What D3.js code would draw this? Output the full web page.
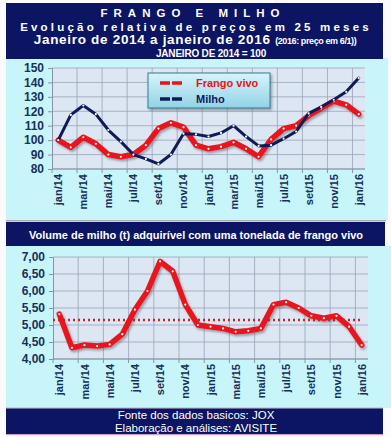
<!DOCTYPE html>
<html><head><meta charset="utf-8">
<script src="https://cdn.jsdelivr.net/npm/d3@7"></script>
<style>html,body{margin:0;padding:0;background:#fff;}svg{display:block;font-family:"Liberation Sans",Arial,sans-serif;}</style>
</head><body>
<script>
const months = ["jan/14","fev/14","mar/14","abr/14","mai/14","jun/14","jul/14","ago/14","set/14","out/14","nov/14","dez/14",
"jan/15","fev/15","mar/15","abr/15","mai/15","jun/15","jul/15","ago/15","set/15","out/15","nov/15","dez/15","jan/16"];
const frango = [100,95,102,97.5,90,88.5,90,96.5,108,112,109,96.5,94,95.5,98.5,94,88.5,100.5,108,110,117,122,127,124.5,118];
const milho  = [100,117.5,124,118,107,99,90,87,83.5,90,104.5,104,102.5,105,110,102.5,96,96.5,101,106,118.5,123,128,133.5,143];
const volume = [5.32,4.33,4.41,4.38,4.43,4.73,5.45,6.0,6.87,6.58,5.6,5.0,4.95,4.9,4.8,4.83,4.9,5.6,5.67,5.5,5.27,5.2,5.27,4.95,4.41];
const volumeMedia = 5.15;
const topTicks = [80,90,100,110,120,130,140,150];
const botTicks = [4,4.5,5,5.5,6,6.5,7];
const seriesNames = ["Frango vivo","Milho"];

const W=391,H=437;
const NAVY="#0b1562", CYAN="#c8f5fa", PLOT="#dde7f3", GRID="#98a3b6", LBL="#16305a", RED="#e8131b", BLUE="#0e1b58";
const svg=d3.select("body").append("svg").attr("width",W).attr("height",H);
const defs=svg.append("defs");
const f=defs.append("filter").attr("id","sh").attr("x","-10%").attr("y","-10%").attr("width","130%").attr("height","140%");
f.append("feDropShadow").attr("dx",1.5).attr("dy",2).attr("stdDeviation",1.2).attr("flood-color","#445").attr("flood-opacity",0.45);
const lg=defs.append("linearGradient").attr("id","lg").attr("x1",0).attr("y1",0).attr("x2",0).attr("y2",1);
lg.append("stop").attr("offset","0%").attr("stop-color","#d6f4fb");
lg.append("stop").attr("offset","100%").attr("stop-color","#92d3e6");

// backgrounds
svg.append("rect").attr("x",0).attr("y",0).attr("width",W).attr("height",H).attr("fill","#fbfbfb");
svg.append("rect").attr("x",6).attr("y",58).attr("width",382).attr("height",162).attr("fill",CYAN);
svg.append("rect").attr("x",6).attr("y",220).attr("width",380).attr("height",1.5).attr("fill","#a8a8b0");
svg.append("rect").attr("x",6).attr("y",246).attr("width",385).attr("height",162).attr("fill",CYAN);
svg.append("rect").attr("x",6).attr("y",3).attr("width",377).attr("height",56).attr("fill",NAVY);
svg.append("rect").attr("x",6).attr("y",222).attr("width",379).attr("height",24).attr("fill",NAVY);
svg.append("rect").attr("x",6).attr("y",407.5).attr("width",377).attr("height",1.2).attr("fill","#c9a6bd");
svg.append("rect").attr("x",6).attr("y",408.5).attr("width",377).attr("height",25.5).attr("fill",NAVY);
svg.append("rect").attr("x",6).attr("y",434).attr("width",377).attr("height",1.2).attr("fill","#c9a6bd");

// title
const T=svg.append("g").attr("fill","#fff").attr("font-weight","bold").attr("text-anchor","middle");
T.append("text").attr("x",193).attr("y",16.5).attr("font-size",11.5).attr("letter-spacing",6).text("FRANGO E MILHO");
T.append("text").attr("x",196).attr("y",30.5).attr("font-size",11.5).attr("letter-spacing",3.2).text("Evolução relativa de preços em 25 meses");
const t3=T.append("text").attr("x",195).attr("y",44);
t3.append("tspan").attr("font-size",13.5).attr("letter-spacing",0.7).text("Janeiro de 2014 a janeiro de 2016 ");
t3.append("tspan").attr("font-size",9).attr("letter-spacing",-0.4).text("(2016: preço em 6/1))");
T.append("text").attr("x",211).attr("y",56.5).attr("font-size",10).attr("letter-spacing",-0.2).text("JANEIRO DE 2014 = 100");
svg.append("text").attr("x",196).attr("y",239).attr("fill","#fff").attr("font-weight","bold").attr("font-size",11).attr("text-anchor","middle").text("Volume de milho (t) adquirível com uma tonelada de frango vivo");
const F=svg.append("g").attr("fill","#fff").attr("font-size",11.5).attr("text-anchor","middle");
F.append("text").attr("x",196).attr("y",419).text("Fonte dos dados basicos: JOX");
F.append("text").attr("x",196).attr("y",432).text("Elaboração e análises: AVISITE");

function chart(x0,x1,y0,y1,dom,ticks,fmt){
  const x=d3.scaleBand().domain(months).range([x0,x1]).padding(0);
  const y=d3.scaleLinear().domain(dom).range([y1,y0]);
  const g=svg.append("g");
  g.append("rect").attr("x",x0).attr("y",y0).attr("width",x1-x0).attr("height",y1-y0).attr("fill",PLOT);
  g.selectAll(".hg").data(ticks).join("line").attr("x1",x0).attr("x2",x1).attr("y1",d=>y(d)).attr("y2",d=>y(d)).attr("stroke",GRID).attr("stroke-width",0.8);
  const ev=months.filter((m,i)=>i%2===0);
  g.selectAll(".vg").data(ev.slice(1)).join("line").attr("x1",d=>x(d)).attr("x2",d=>x(d)).attr("y1",y0).attr("y2",y1).attr("stroke",GRID).attr("stroke-width",0.8);
  const ya=g.append("g").attr("transform",`translate(${x0},0)`).call(d3.axisLeft(y).tickValues(ticks).tickFormat(fmt).tickSize(4).tickPadding(4));
  ya.select(".domain").attr("stroke","#8a93a3");
  ya.selectAll(".tick line").attr("stroke","#8a93a3");
  ya.selectAll("text").attr("font-size",12).attr("font-weight","bold").attr("fill",LBL).attr("font-family","Liberation Sans, Arial, sans-serif");
  // x axis
  g.append("line").attr("x1",x0).attr("x2",x1).attr("y1",y1).attr("y2",y1).attr("stroke","#8a93a3");
  g.selectAll(".xt").data(ev).join("line").attr("x1",d=>x(d)).attr("x2",d=>x(d)).attr("y1",y1).attr("y2",y1+4).attr("stroke","#8a93a3");
  g.selectAll(".xl").data(ev).join("text")
    .attr("transform",d=>`translate(${x(d)+x.bandwidth()/2+4},${y1+5}) rotate(-90)`)
    .attr("text-anchor","end").attr("font-size",11).attr("font-weight","bold").attr("fill",LBL).text(d=>d);
  return {x,y,g,cx:d=>x(d)+x.bandwidth()/2};
}
function series(c,vals,color,w,shadow){
  const line=d3.line().x((d,i)=>c.cx(months[i])).y(d=>c.y(d));
  const p=c.g.append("path").datum(vals).attr("d",line).attr("fill","none").attr("stroke",color).attr("stroke-width",w).attr("stroke-linejoin","round").attr("stroke-linecap","round");
  if(shadow)p.attr("filter","url(#sh)");
  c.g.selectAll(null).data(vals).join("circle").attr("cx",(d,i)=>c.cx(months[i])).attr("cy",d=>c.y(d)).attr("r",1.1).attr("fill","#fff");
}
const fmt0=d3.format("d");
const c1=chart(52,365,68,169,[80,150],topTicks,fmt0);
series(c1,frango,RED,5.5,true);
series(c1,milho,BLUE,3,false);
// legend
const L=svg.append("g");
L.append("rect").attr("x",148).attr("y",73).attr("width",122).attr("height",35).attr("fill","url(#lg)").attr("stroke","#2b7f96").attr("stroke-width",1).attr("filter","url(#sh)");
L.append("line").attr("x1",160).attr("x2",184).attr("y1",83).attr("y2",83).attr("stroke",RED).attr("stroke-width",3.5).attr("stroke-dasharray","10,2");
L.append("line").attr("x1",160).attr("x2",184).attr("y1",99).attr("y2",99).attr("stroke",BLUE).attr("stroke-width",3.5).attr("stroke-dasharray","10,2");
L.append("text").attr("x",196).attr("y",87).attr("font-size",11).attr("font-weight","bold").attr("fill",RED).text(seriesNames[0]);
L.append("text").attr("x",196).attr("y",103).attr("font-size",11).attr("font-weight","bold").attr("fill",BLUE).text(seriesNames[1]);

const fmt2=d=>d3.format(".2f")(d).replace(".",",");
const c2=chart(53,368,257,359,[4,7],botTicks,fmt2);
c2.g.append("line").attr("x1",53).attr("x2",362).attr("y1",c2.y(volumeMedia)).attr("y2",c2.y(volumeMedia)).attr("stroke","#c0262c").attr("stroke-width",2.5).attr("stroke-dasharray","2,3");
series(c2,volume,RED,5.5,true);
</script>
</body></html>
